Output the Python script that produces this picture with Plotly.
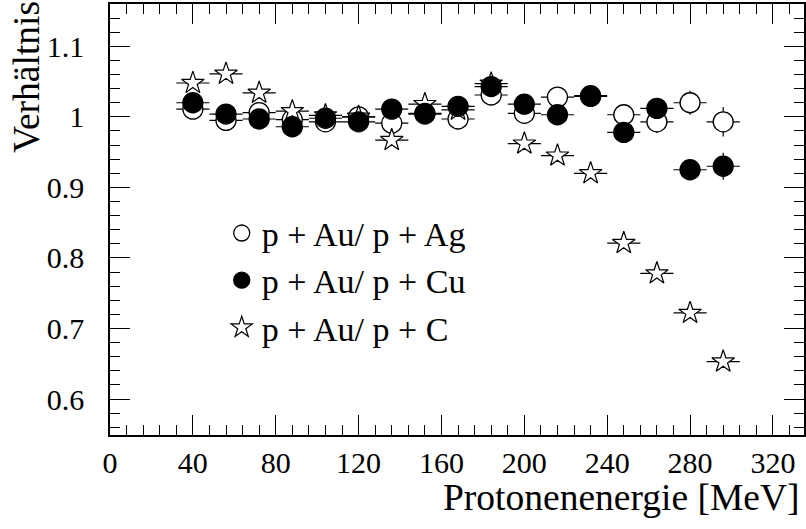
import plotly.graph_objects as go

# Proton energy bin centres [MeV]
energy = [40, 56, 72, 88, 104, 120, 136, 152, 168, 184, 200, 216, 232, 248, 264, 280, 296]
bin_half_width = 8

# Cross-section ratios p+Au / p+X
ratio_ag = [1.011, 0.995, 1.006, 0.996, 0.993, 1.000, 0.991, 1.004, 0.997, 1.031,
            1.005, 1.028, 1.030, 1.003, 0.993, 1.020, 0.993]
ratio_cu = [1.020, 1.004, 0.997, 0.986, 0.998, 0.993, 1.011, 1.005, 1.015, 1.043,
            1.018, 1.003, 1.029, 0.978, 1.012, 0.925, 0.930]
ratio_c = [1.048, 1.061, 1.034, 1.008, 1.002, 1.000, 0.967, 1.018, 1.010, 1.047,
           0.962, 0.945, 0.920, 0.821, 0.778, 0.722, 0.653]

err_ag = [0.008, 0.008, 0.008, 0.008, 0.008, 0.008, 0.008, 0.008, 0.008, 0.008,
          0.009, 0.009, 0.010, 0.015, 0.016, 0.017, 0.021]
err_cu = [0.008, 0.008, 0.008, 0.008, 0.008, 0.008, 0.008, 0.008, 0.008, 0.008,
          0.009, 0.009, 0.010, 0.013, 0.014, 0.014, 0.019]
err_c = [0.006, 0.006, 0.006, 0.006, 0.006, 0.006, 0.006, 0.006, 0.006, 0.006,
         0.007, 0.007, 0.007, 0.008, 0.008, 0.008, 0.009]

labels = ["p + Au/ p + Ag", "p + Au/ p + Cu", "p + Au/ p + C"]

FONT = "Liberation Serif"


def errs(vals):
    return dict(type="data", array=vals, visible=True, color="black", thickness=1.2, width=0)


def xerrs():
    return dict(type="constant", value=bin_half_width, visible=True, color="black", thickness=1.2, width=0)


fig = go.Figure()

fig.add_trace(go.Scatter(
    x=energy, y=ratio_ag, mode="markers", name=labels[0], legendrank=1,
    legendgroup="ag",
    marker=dict(symbol="circle", size=20, color="white", line=dict(color="black", width=1.3)),
    error_y=errs(err_ag), error_x=xerrs(),
))
fig.add_trace(go.Scatter(
    x=energy, y=ratio_c, mode="markers", name=labels[2], legendrank=3,
    legendgroup="c",
    marker=dict(symbol="star", size=17, color="white", line=dict(color="black", width=1.2)),
    error_y=errs(err_c), error_x=xerrs(),
))
fig.add_trace(go.Scatter(
    x=energy, y=ratio_cu, mode="markers", name=labels[1], legendrank=2,
    legendgroup="cu",
    marker=dict(symbol="circle", size=20, color="black", line=dict(color="black", width=1.3)),
    error_y=errs(err_cu), error_x=xerrs(),
))

axis_common = dict(
    showline=True, linecolor="black", linewidth=1.5, mirror="ticks",
    ticks="inside", tickcolor="black", tickwidth=1.2, ticklen=20,
    showgrid=False, zeroline=False,
    tickfont=dict(family=FONT, size=30, color="black"),
)

fig.update_xaxes(
    range=[0, 335], tick0=0, dtick=40, ticklabelstandoff=0,
    minor=dict(ticks="inside", dtick=8, ticklen=10, tickcolor="black", tickwidth=1.2, showgrid=False),
    **axis_common,
)
fig.update_yaxes(
    range=[0.549, 1.16], tick0=0, dtick=0.1, ticklabelstandoff=18,
    minor=dict(ticks="inside", dtick=0.02, ticklen=10, tickcolor="black", tickwidth=1.2, showgrid=False),
    **axis_common,
)

fig.update_layout(
    width=806, height=529,
    margin=dict(l=110, r=0, t=4, b=94),
    plot_bgcolor="white", paper_bgcolor="white",
    font=dict(family=FONT, color="black"),
    showlegend=True,
    legend=dict(
        x=0.161, y=0.535, xanchor="left", yanchor="top",
        bgcolor="rgba(0,0,0,0)", borderwidth=0,
        font=dict(family=FONT, size=34, color="black"),
        tracegroupgap=0, traceorder="grouped",
    ),
    annotations=[
        dict(text="Protonenenergie [MeV]", xref="paper", yref="paper",
             x=1.0, y=-0.146, xanchor="right", yanchor="middle", showarrow=False,
             xshift=-2, font=dict(family=FONT, size=37.5, color="black")),
        dict(text="Verhältnis", xref="paper", yref="paper",
             x=-0.12, y=0.83, xanchor="center", yanchor="middle", showarrow=False,
             textangle=-90, font=dict(family=FONT, size=37.5, color="black")),
    ],
)

fig.write_html("out.html")
